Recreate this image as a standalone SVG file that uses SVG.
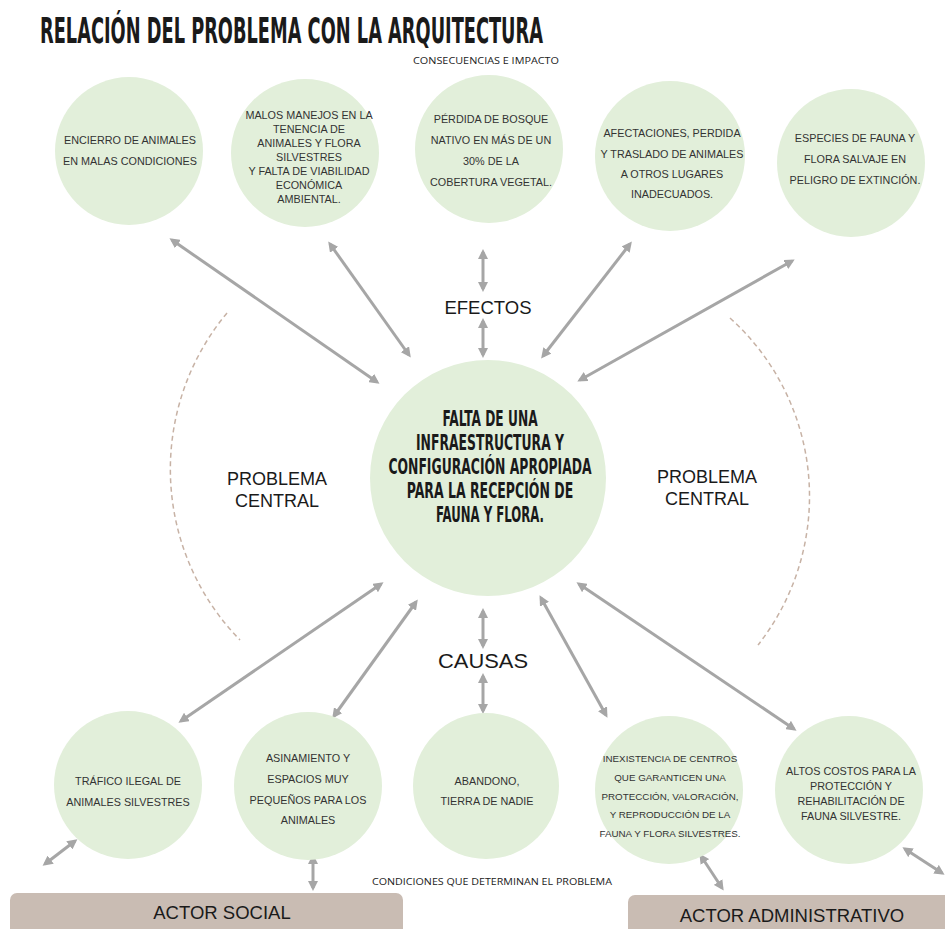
<svg xmlns="http://www.w3.org/2000/svg" width="945" height="929" viewBox="0 0 945 929">
<defs>
<marker id="ah" viewBox="0 0 10 10" refX="7" refY="5" markerWidth="3.4" markerHeight="3.4" orient="auto-start-reverse" markerUnits="strokeWidth"><path d="M0,0 L10,5 L0,10 z" fill="#a6a6a6"/></marker>
<style>
.c{fill:#e2efda}
.t{font-family:"Liberation Sans",Arial,sans-serif;font-size:10.8px;fill:#333;text-anchor:middle}
.s{font-size:9.8px}
.a{stroke:#a6a6a6;stroke-width:3;fill:none;marker-start:url(#ah);marker-end:url(#ah)}
.d{stroke:#c7b2a5;stroke-width:1.5;fill:none;stroke-dasharray:5 3.5}
.h{font-family:"DejaVu Sans Condensed","DejaVu Sans",sans-serif;font-weight:bold;fill:#1a1a1a;text-anchor:middle}
.l{font-family:"Liberation Sans",Arial,sans-serif;fill:#1a1a1a;text-anchor:middle}
.m{font-family:"Open Sans","Liberation Sans",sans-serif;fill:#222;font-size:9px}
.box{fill:#c9bcb3}
</style>
</defs>
<rect width="945" height="929" fill="#fff"/>
<text class="h" x="40" y="43" font-size="35" style="text-anchor:start" textLength="503" lengthAdjust="spacingAndGlyphs">RELACIÓN DEL PROBLEMA CON LA ARQUITECTURA</text>
<text class="m" x="413" y="64" textLength="146" lengthAdjust="spacingAndGlyphs">CONSECUENCIAS E IMPACTO</text>
<text class="m" x="372" y="885" textLength="240" lengthAdjust="spacingAndGlyphs">CONDICIONES QUE DETERMINAN EL PROBLEMA</text>

<g id="dashed-arcs">
<path class="d" d="M227,313 A244,244 0 0 0 240,640"/>
<path class="d" d="M730,318 A240,240 0 0 1 758,645"/>
</g>

<g id="connectors">
<line class="a" x1="172" y1="240" x2="377" y2="382"/>
<line class="a" x1="330" y1="244" x2="409" y2="355"/>
<line class="a" x1="483" y1="252" x2="483" y2="289"/>
<line class="a" x1="483" y1="321" x2="483" y2="355"/>
<line class="a" x1="630" y1="244" x2="543" y2="356"/>
<line class="a" x1="792" y1="261" x2="580" y2="380"/>
<line class="a" x1="381" y1="584" x2="181" y2="721"/>
<line class="a" x1="416" y1="602" x2="334" y2="716"/>
<line class="a" x1="483" y1="611" x2="483" y2="646"/>
<line class="a" x1="483" y1="676" x2="483" y2="711"/>
<line class="a" x1="541" y1="598" x2="606" y2="715"/>
<line class="a" x1="579" y1="584" x2="794" y2="729"/>
<line class="a" x1="45" y1="864" x2="75" y2="841"/>
<line class="a" x1="313" y1="857" x2="313" y2="888"/>
<line class="a" x1="701" y1="856" x2="722" y2="888"/>
<line class="a" x1="905" y1="849" x2="942" y2="873"/>
</g>

<g id="label-efectos"><text class="l" x="488" y="314" font-size="18.5">EFECTOS</text></g>
<g id="label-causas"><text class="l" x="483" y="668" font-size="20" textLength="90" lengthAdjust="spacingAndGlyphs">CAUSAS</text></g>
<g id="label-problema-izq"><text class="l" x="277" y="485" font-size="18">PROBLEMA</text><text class="l" x="277" y="507" font-size="18">CENTRAL</text></g>
<g id="label-problema-der"><text class="l" x="707" y="483" font-size="18">PROBLEMA</text><text class="l" x="707" y="505" font-size="18">CENTRAL</text></g>

<g id="central">
<circle class="c" cx="488" cy="478" r="118"/>
<g transform="translate(490,0) scale(0.8,1)">
<text class="h" font-size="20.5" x="0" y="426" textLength="119" lengthAdjust="spacingAndGlyphs">FALTA DE UNA</text>
<text class="h" font-size="20.5" x="0" y="450" textLength="185" lengthAdjust="spacingAndGlyphs">INFRAESTRUCTURA Y</text>
<text class="h" font-size="20.5" x="0" y="474" textLength="254" lengthAdjust="spacingAndGlyphs">CONFIGURACIÓN APROPIADA</text>
<text class="h" font-size="20.5" x="0" y="498" textLength="208" lengthAdjust="spacingAndGlyphs">PARA LA RECEPCIÓN DE</text>
<text class="h" font-size="20.5" x="0" y="522" textLength="135" lengthAdjust="spacingAndGlyphs">FAUNA Y FLORA.</text>
</g>
</g>

<g id="efecto-1">
<circle class="c" cx="129" cy="151" r="74"/>
<text class="t" x="130" y="144">ENCIERRO DE ANIMALES</text>
<text class="t" x="130" y="165">EN MALAS CONDICIONES</text>
</g>
<g id="efecto-2">
<circle class="c" cx="305" cy="153" r="74"/>
<text class="t" x="309" y="119">MALOS MANEJOS EN LA</text>
<text class="t" x="309" y="133">TENENCIA DE</text>
<text class="t" x="309" y="147">ANIMALES Y FLORA</text>
<text class="t" x="309" y="161">SILVESTRES</text>
<text class="t" x="309" y="175">Y FALTA DE VIABILIDAD</text>
<text class="t" x="309" y="189">ECONÓMICA</text>
<text class="t" x="309" y="203">AMBIENTAL.</text>
</g>
<g id="efecto-3">
<circle class="c" cx="489" cy="149" r="74"/>
<text class="t" x="491" y="123">PÉRDIDA DE BOSQUE</text>
<text class="t" x="491" y="144">NATIVO EN MÁS DE UN</text>
<text class="t" x="491" y="165">30% DE LA</text>
<text class="t" x="491" y="186">COBERTURA VEGETAL.</text>
</g>
<g id="efecto-4">
<circle class="c" cx="670" cy="156" r="75"/>
<text class="t" x="672" y="137">AFECTACIONES, PERDIDA</text>
<text class="t" x="672" y="158">Y  TRASLADO DE ANIMALES</text>
<text class="t" x="672" y="178">A OTROS LUGARES</text>
<text class="t" x="672" y="198">INADECUADOS.</text>
</g>
<g id="efecto-5">
<circle class="c" cx="851" cy="163" r="74"/>
<text class="t" x="855" y="142">ESPECIES DE FAUNA Y</text>
<text class="t" x="855" y="163">FLORA  SALVAJE  EN</text>
<text class="t" x="855" y="184">PELIGRO DE EXTINCIÓN.</text>
</g>

<g id="causa-1">
<circle class="c" cx="128" cy="785" r="74"/>
<text class="t" x="128" y="785">TRÁFICO ILEGAL DE</text>
<text class="t" x="128" y="806">ANIMALES SILVESTRES</text>
</g>
<g id="causa-2">
<circle class="c" cx="308" cy="786" r="74"/>
<text class="t" x="308" y="762">ASINAMIENTO Y</text>
<text class="t" x="308" y="783">ESPACIOS MUY</text>
<text class="t" x="308" y="804">PEQUEÑOS  PARA LOS</text>
<text class="t" x="308" y="824">ANIMALES</text>
</g>
<g id="causa-3">
<circle class="c" cx="486" cy="786" r="73"/>
<text class="t" x="487" y="785">ABANDONO,</text>
<text class="t" x="487" y="805">TIERRA DE NADIE</text>
</g>
<g id="causa-4">
<circle class="c" cx="669" cy="790" r="74"/>
<text class="t s" x="670" y="762">INEXISTENCIA DE CENTROS</text>
<text class="t s" x="670" y="781">QUE GARANTICEN UNA</text>
<text class="t s" x="670" y="800">PROTECCIÓN,  VALORACIÓN,</text>
<text class="t s" x="670" y="818">Y REPRODUCCIÓN DE LA</text>
<text class="t s" x="670" y="837">FAUNA Y FLORA SILVESTRES.</text>
</g>
<g id="causa-5">
<circle class="c" cx="849" cy="790" r="74"/>
<text class="t" x="851" y="775">ALTOS COSTOS PARA LA</text>
<text class="t" x="851" y="790">PROTECCIÓN Y</text>
<text class="t" x="851" y="805">REHABILITACIÓN DE</text>
<text class="t" x="851" y="820">FAUNA SILVESTRE.</text>
</g>

<g id="actor-social">
<rect class="box" x="10" y="893" width="393" height="50" rx="7"/>
<text class="l" x="222" y="919" font-size="18.5" fill="#222">ACTOR SOCIAL</text>
</g>
<g id="actor-administrativo">
<rect class="box" x="628" y="895" width="330" height="50" rx="7"/>
<text class="l" x="792" y="922" font-size="18.5" fill="#222">ACTOR ADMINISTRATIVO</text>
</g>
</svg>
